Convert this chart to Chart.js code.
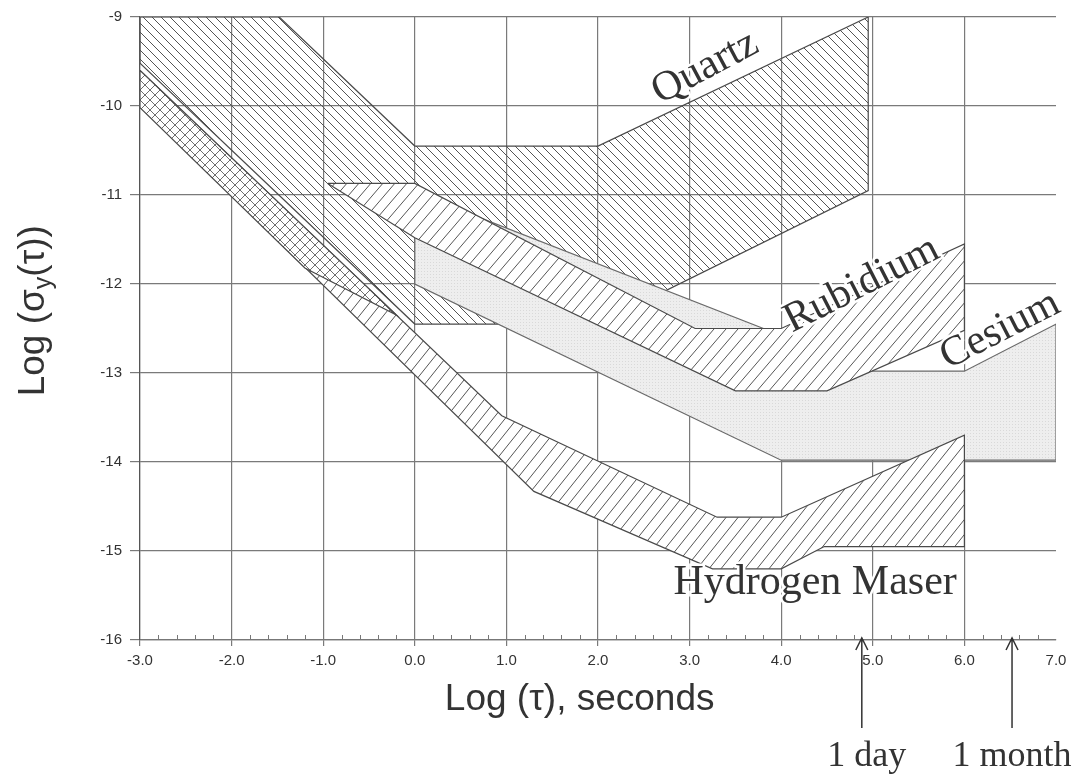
<!DOCTYPE html>
<html>
<head>
<meta charset="utf-8">
<title>Frequency stability ranges</title>
<script src="https://cdn.jsdelivr.net/npm/chart.js@4.4.1/dist/chart.umd.min.js"></script>
<style>
  body { margin: 0; background: #fff; }
  #wrap { width: 1078px; height: 778px; }
</style>
</head>
<body>
<div id="wrap"><canvas id="stabilityChart" width="1078" height="778"></canvas></div>
<script>
// band outlines, log(tau) vs log(sigma_y)
const quartzX = [-3.0, -1.48, 0.0, 2.0, 4.95, 4.95, 2.0, 0.0, -3.0];
const quartzY = [-9.0, -9.0, -10.45, -10.45, -9.0, -10.95, -12.45, -12.45, -9.52];

const cesiumX = [0.0, 0.5, 5.0, 6.0, 7.0, 7.0, 4.0, 0.0];
const cesiumY = [-11.17, -11.17, -12.98, -12.98, -12.45, -13.98, -13.98, -12.0];

const rubidiumX = [-0.95, 0.0, 3.06, 4.0, 6.0, 6.0, 4.5, 3.5, 0.0];
const rubidiumY = [-10.87, -10.87, -12.5, -12.5, -11.55, -12.52, -13.2, -13.2, -11.48];

const maserX = [-3.0, 0.95, 3.3, 4.0, 6.0, 6.0, 4.47, 4.0, 3.25, 1.3, -3.0];
const maserY = [-9.6, -13.48, -14.62, -14.62, -13.7, -14.95, -14.95, -15.2, -15.2, -14.33, -10.0];

// cross-hatched part at short tau
const crossX = [-3.0, -0.2, -1.2, -3.0];
const crossY = [-9.6, -12.35, -11.82, -10.02];

const bandNames = ['Quartz', 'Rubidium', 'Cesium', 'Hydrogen Maser'];
const bandLabelX = [3.17, 4.88, 6.39, 4.37];
const bandLabelY = [-9.57, -12.01, -12.52, -15.36];
const bandLabelAngle = [-28, -27, -27, 0];

const markNames = ['1 day', '1 month'];
const markX = [4.88, 6.52];

function outline(xs, ys) {
    const pts = xs.map((x, i) => ({ x: x, y: ys[i] }));
    pts.push({ x: xs[0], y: ys[0] });
    return pts;
}

function makeHatch(w, h, dirs, bg, col) {
    const c = document.createElement('canvas');
    c.width = w; c.height = h;
    const g = c.getContext('2d');
    if (bg) { g.fillStyle = bg; g.fillRect(0, 0, w, h); }
    g.strokeStyle = col || '#555';
    g.lineWidth = 1;
    dirs.forEach(d => {
        g.beginPath();
        for (let k = -1; k <= 1; k++) {
            if (d === '/') { g.moveTo(k * w, h); g.lineTo(k * w + w, 0); }
            else { g.moveTo(k * w, 0); g.lineTo(k * w + w, h); }
        }
        g.stroke();
    });
    return g.createPattern(c, 'repeat');
}

function makeDots() {
    const c = document.createElement('canvas');
    c.width = 3; c.height = 3;
    const g = c.getContext('2d');
    g.fillStyle = '#eeeeee';
    g.fillRect(0, 0, 3, 3);
    g.fillStyle = '#d9d9d9';
    g.fillRect(1, 1, 1, 1);
    return g.createPattern(c, 'repeat');
}

const annotations = {
    id: 'annotations',
    afterDatasetsDraw(chart) {
        const ctx = chart.ctx;
        const xs = chart.scales.x, ys = chart.scales.y;
        const area = chart.chartArea;

        // minor ticks along the bottom axis
        ctx.save();
        ctx.strokeStyle = '#777';
        ctx.lineWidth = 1;
        ctx.beginPath();
        for (let v = -3; v < 7; v += 0.2) {
            if (Math.abs(v - Math.round(v)) < 0.01) continue;
            const px = Math.round(xs.getPixelForValue(v)) + 0.5;
            ctx.moveTo(px, area.bottom);
            ctx.lineTo(px, area.bottom - 5);
        }
        ctx.stroke();
        ctx.restore();

        // band names
        ctx.save();
        ctx.font = '42px "Liberation Serif"';
        ctx.textAlign = 'center';
        ctx.textBaseline = 'middle';
        bandNames.forEach((name, i) => {
            ctx.save();
            ctx.translate(xs.getPixelForValue(bandLabelX[i]), ys.getPixelForValue(bandLabelY[i]));
            ctx.rotate(bandLabelAngle[i] * Math.PI / 180);
            ctx.lineWidth = 5;
            ctx.strokeStyle = '#fff';
            ctx.strokeText(name, 0, 0);
            ctx.fillStyle = '#333';
            ctx.fillText(name, 0, 0);
            ctx.restore();
        });
        ctx.restore();

        // 1 day / 1 month arrows
        ctx.save();
        ctx.strokeStyle = '#333';
        ctx.fillStyle = '#333';
        ctx.lineWidth = 1.5;
        ctx.font = '36px "Liberation Serif"';
        ctx.textAlign = 'center';
        ctx.textBaseline = 'alphabetic';
        markNames.forEach((name, i) => {
            const px = xs.getPixelForValue(markX[i]);
            const tip = area.bottom - 2;
            ctx.beginPath();
            ctx.moveTo(px, area.bottom + 88);
            ctx.lineTo(px, tip);
            ctx.moveTo(px - 6, tip + 12);
            ctx.lineTo(px, tip);
            ctx.lineTo(px + 6, tip + 12);
            ctx.stroke();
            ctx.fillText(name, px + (i === 0 ? 5 : 0), area.bottom + 126);
        });
        ctx.restore();

        // axis titles
        ctx.save();
        ctx.fillStyle = '#333';
        ctx.font = '37px "Liberation Sans"';
        ctx.textAlign = 'center';
        ctx.textBaseline = 'middle';
        ctx.fillText('Log (\u03C4), seconds', xs.getPixelForValue(1.8), area.bottom + 60);

        ctx.translate(34, ys.getPixelForValue(-12.3));
        ctx.rotate(-Math.PI / 2);
        ctx.textAlign = 'left';
        const a = 'Log (\u03C3', b = 'y', c = '(\u03C4))';
        const wa = ctx.measureText(a).width, wc = ctx.measureText(c).width;
        ctx.font = '25px "Liberation Sans"';
        const wb = ctx.measureText(b).width;
        let x0 = -(wa + wb + wc) / 2;
        ctx.font = '37px "Liberation Sans"';
        ctx.fillText(a, x0, 0);
        ctx.font = '25px "Liberation Sans"';
        ctx.fillText(b, x0 + wa, 10);
        ctx.font = '37px "Liberation Sans"';
        ctx.fillText(c, x0 + wa + wb, 0);
        ctx.restore();
    }
};

const ctx = document.getElementById('stabilityChart').getContext('2d');

const common = { pointRadius: 0, tension: 0, fill: 'shape', borderWidth: 1.2, borderColor: '#4a4a4a' };

const stabilityChart = new Chart(ctx, {
    type: 'line',
    data: {
        datasets: [
            Object.assign({ label: 'Overlap', data: outline(crossX, crossY),
                backgroundColor: makeHatch(10, 10, ['/', '\\'], '#fff', '#6e6e6e'), order: 1 }, common),
            Object.assign({ label: 'Hydrogen Maser', data: outline(maserX, maserY),
                backgroundColor: makeHatch(12, 15, ['/'], '#fff'), order: 2 }, common),
            Object.assign({ label: 'Rubidium', data: outline(rubidiumX, rubidiumY),
                backgroundColor: makeHatch(12, 14, ['/'], '#fff'), order: 3 }, common),
            Object.assign({ label: 'Cesium', data: outline(cesiumX, cesiumY),
                backgroundColor: makeDots(), order: 4 }, common, { borderColor: '#6a6a6a' }),
            Object.assign({ label: 'Quartz', data: outline(quartzX, quartzY),
                backgroundColor: makeHatch(9, 9, ['\\'], null), order: 5 }, common)
        ]
    },
    options: {
        responsive: false,
        animation: false,
        devicePixelRatio: 1,
        layout: { padding: { top: 17, right: 22, left: 0, bottom: 0 } },
        plugins: {
            legend: { display: false },
            tooltip: { enabled: false }
        },
        scales: {
            x: {
                type: 'linear',
                min: -3,
                max: 7,
                afterFit: s => { s.height = 138; },
                ticks: {
                    stepSize: 1,
                    color: '#333',
                    padding: 6,
                    font: { family: 'Liberation Sans', size: 15 },
                    callback: v => v.toFixed(1)
                },
                grid: {
                    color: c => (c.tick && c.tick.value === 7) ? 'rgba(0,0,0,0)' : '#7a7a7a',
                    lineWidth: 1.2,
                    tickLength: 6
                },
                border: { color: '#777', width: 1.2 }
            },
            y: {
                min: -16,
                max: -9,
                afterFit: s => { s.width = 140; },
                ticks: {
                    stepSize: 1,
                    color: '#333',
                    padding: 8,
                    font: { family: 'Liberation Sans', size: 15 },
                    callback: v => String(v)
                },
                grid: { color: '#7a7a7a', lineWidth: 1.2, tickLength: 10 },
                border: { color: '#555', width: 1.2 }
            }
        }
    },
    plugins: [annotations]
});
</script>
</body>
</html>
